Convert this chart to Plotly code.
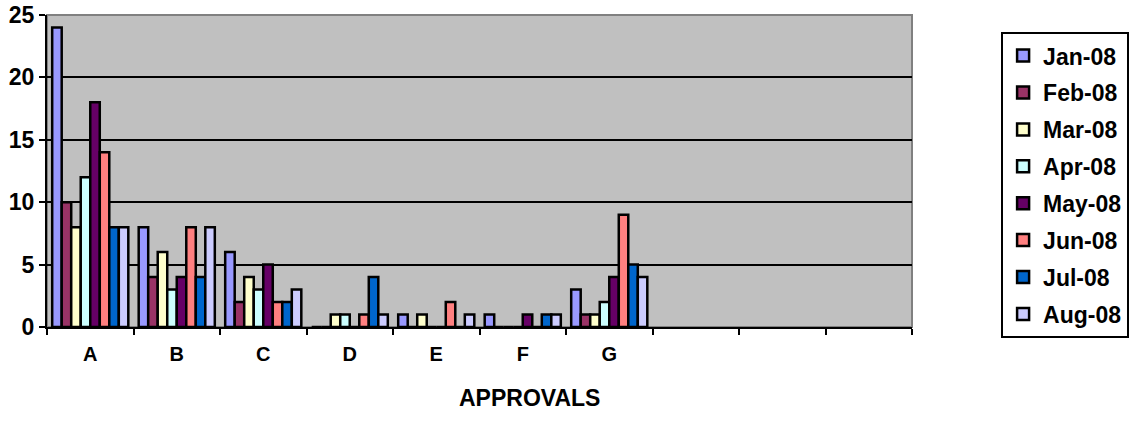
import plotly.graph_objects as go

categories = ["A", "B", "C", "D", "E", "F", "G", " ", "  ", "   "]
months = ["Jan-08", "Feb-08", "Mar-08", "Apr-08", "May-08", "Jun-08", "Jul-08", "Aug-08"]
colors = ["#9999FF", "#993366", "#FFFFCC", "#CCFFFF", "#660066", "#FF8080", "#0066CC", "#CCCCFF"]

jan = [24, 8, 6, 0, 1, 1, 3]
feb = [10, 4, 2, 0, 0, 0, 1]
mar = [8, 6, 4, 1, 1, 0, 1]
apr = [12, 3, 3, 1, 0, 0, 2]
may = [18, 4, 5, 0, 0, 1, 4]
jun = [14, 8, 2, 1, 2, 0, 9]
jul = [8, 4, 2, 4, 0, 1, 5]
aug = [8, 8, 3, 1, 1, 1, 4]
series = [jan, feb, mar, apr, may, jun, jul, aug]

yticks = [0, 5, 10, 15, 20, 25]
x_title = "APPROVALS"

FONT = "Liberation Sans, Arial, sans-serif"

fig = go.Figure()
for name, vals, col in zip(months, series, colors):
    fig.add_trace(go.Bar(
        x=categories[:len(vals)], y=vals, name=name,
        marker=dict(color=col, line=dict(color="black", width=2.5)),
        legendgroup=name,
    ))

fig.update_layout(
    width=1136, height=439,
    margin=dict(l=47, r=224, t=15, b=112, autoexpand=False),
    paper_bgcolor="white",
    plot_bgcolor="#C0C0C0",
    barmode="group",
    bargap=0.12,
    bargroupgap=0,
    font=dict(family=FONT, size=15, color="black"),
    showlegend=True,
    legend=dict(
        x=1.103, xanchor="left", y=0.945, yanchor="top",
        bordercolor="black", borderwidth=2,
        font=dict(family=FONT, size=23, color="black", weight="bold"),
        tracegroupgap=4,
        itemwidth=30,
        bgcolor="white",
    ),
)

fig.update_xaxes(
    type="category",
    categoryorder="array", categoryarray=categories,
    range=[-0.5, 9.5],
    showline=True, linecolor="black", linewidth=2,
    ticks="outside", tickson="boundaries", ticklen=6, tickwidth=2, tickcolor="black",
    tickfont=dict(family=FONT, size=20, color="black", weight="bold"),
    ticklabelstandoff=8,
    showgrid=False,
)
fig.update_yaxes(
    range=[0, 25],
    tickvals=yticks,
    showline=True, linecolor="black", linewidth=2,
    ticks="outside", ticklen=6, tickwidth=2, tickcolor="black",
    tickfont=dict(family=FONT, size=23, color="black", weight="bold"),
    showgrid=True, gridcolor="black", gridwidth=2,
    zeroline=False,
)

fig.add_annotation(
    text=x_title, xref="paper", yref="paper", x=0.558, y=-0.228,
    xanchor="center", yanchor="middle", showarrow=False,
    font=dict(family=FONT, size=23, color="black", weight="bold"),
)

# plot area border (top/right) in dark gray
fig.add_shape(type="rect", xref="paper", yref="paper", x0=0, y0=0, x1=1, y1=1,
              line=dict(color="#808080", width=2), layer="below")

fig.write_html(
    "out.html",
    config={"displayModeBar": False},
    post_script="document.body.style.margin='0';document.body.style.overflow='hidden';",
)
